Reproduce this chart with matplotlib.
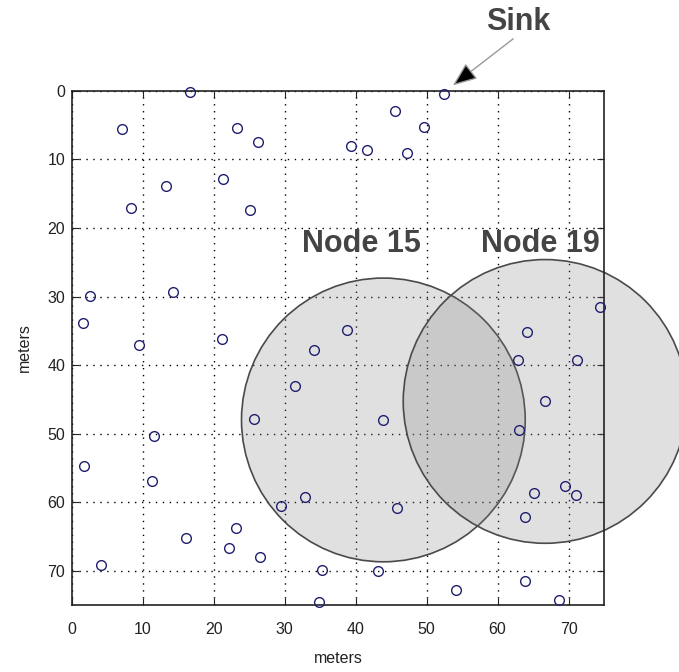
import matplotlib.pyplot as plt
from matplotlib.patches import Ellipse

plt.rcParams['font.family'] = ['Liberation Sans', 'DejaVu Sans']

# node positions in meters (y grows downward)
node_x = [16.7, 7.0, 23.2, 26.2, 13.2, 21.3, 8.3, 25.1, 2.6, 14.3,
          1.6, 21.2, 9.4, 52.5, 45.6, 49.6, 39.4, 41.6, 47.3, 74.4,
          64.1, 38.8, 34.1, 31.4, 25.6, 11.5, 1.7, 11.3, 32.8, 29.4,
          23.1, 16.1, 22.1, 26.5, 4.1, 35.2, 34.8, 62.9, 71.2, 66.7,
          43.9, 63.0, 65.2, 69.5, 71.1, 45.8, 63.8, 43.1, 63.8, 54.2,
          68.7]
node_y = [0.2, 5.6, 5.4, 7.5, 13.9, 12.9, 17.1, 17.3, 29.9, 29.3,
          33.8, 36.2, 37.0, 0.5, 2.9, 5.2, 8.1, 8.6, 9.0, 31.5,
          35.2, 34.9, 37.8, 43.0, 47.8, 50.3, 54.7, 56.9, 59.2, 60.6,
          63.8, 65.2, 66.7, 68.0, 69.2, 69.9, 74.5, 39.3, 39.3, 45.3,
          48.0, 49.5, 58.7, 57.6, 59.0, 60.8, 62.2, 70.0, 71.5, 72.8,
          74.3]

sink = 13
covered = [40, 39]            # nodes whose radio range is drawn
covered_names = ['Node 15', 'Node 19']
radio_range = 20.0
ticks = [0, 10, 20, 30, 40, 50, 60, 70]

fig = plt.figure(figsize=(6.79, 6.72), dpi=100)
ax = fig.add_axes([0.106, 0.0997, 0.7835, 0.765])
ax.set_xlim(0, 75)
ax.set_ylim(75, 0)
ax.set_xticks(ticks)
ax.set_yticks(ticks)
ax.grid(True, color='black', linestyle=(0, (1, 4)), linewidth=1)
ax.set_axisbelow(True)
ax.tick_params(direction='in', top=True, right=True, length=5,
               labelsize=11.5, labelcolor='#222222', colors='#222222')
ax.tick_params(axis='x', pad=12)
ax.tick_params(axis='y', pad=5)
for s in ax.spines.values():
    s.set_linewidth(1.2)
    s.set_color('#222222')

# keep the range circles round on screen
x0, y0 = ax.transData.transform((0, 0))
x1, y1 = ax.transData.transform((1, 1))
aspect = abs(x1 - x0) / abs(y1 - y0)

for i in covered:
    e = Ellipse((node_x[i], node_y[i]), 2 * radio_range, 2 * radio_range * aspect,
                facecolor=(0.5, 0.5, 0.5, 0.24), edgecolor='#4a4a4a',
                linewidth=1.2, clip_on=False, zorder=2)
    ax.add_patch(e)

ax.plot(node_x, node_y, 'o', markersize=7, markerfacecolor='none',
        markeredgecolor='#1f1f6e', markeredgewidth=1, clip_on=False, zorder=3)

label_pos = [(40.8, 22.4), (66.0, 22.3)]
for name, (tx, ty) in zip(covered_names, label_pos):
    ax.text(tx, ty, name, fontsize=22, fontweight='bold', color='#444444',
            ha='center', va='center', zorder=4)

ax.text(62.9, -10.0, 'Sink', fontsize=22, fontweight='bold', color='#444444',
        ha='center', va='center', clip_on=False)
ax.annotate('', xy=(node_x[sink] + 1.2, node_y[sink] - 1.3), xytext=(62.2, -7.6),
            annotation_clip=False,
            arrowprops=dict(arrowstyle='-|>,head_length=1.5,head_width=0.6',
                            facecolor='black', edgecolor='#999999', lw=1,
                            shrinkA=0, shrinkB=0))

ax.set_xlabel('meters', fontsize=11.5, color='#222222')
ax.set_ylabel('meters', fontsize=11.5, color='#222222')
ax.xaxis.set_label_coords(0.5, -0.09)
ax.yaxis.set_label_coords(-0.075, 0.5)

fig.savefig('out.png', dpi=100)
